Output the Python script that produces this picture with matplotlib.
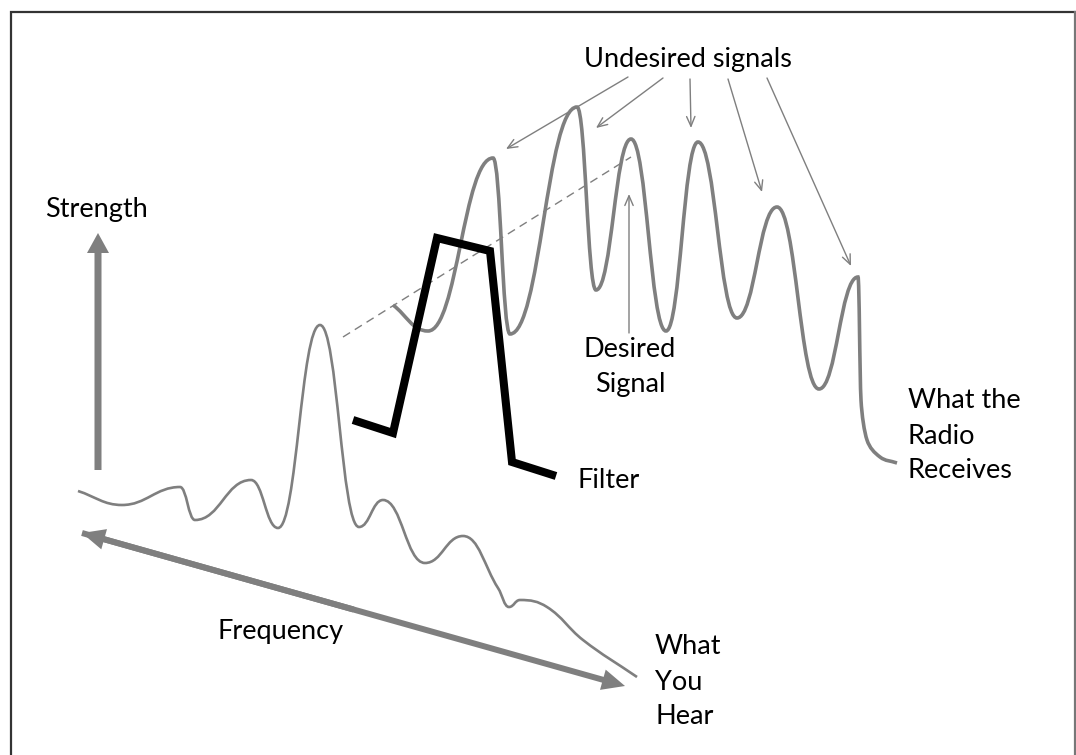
import numpy as np
import matplotlib
matplotlib.use('Agg')
import matplotlib.pyplot as plt
from matplotlib.path import Path
from matplotlib.patches import PathPatch

plt.rcParams['font.family'] = ['Lato', 'DejaVu Sans']

# anchor points of the curves (peaks / troughs), in pixel coordinates
received_x = [393, 428, 493, 510, 577, 596, 631, 666, 698, 737, 777, 819, 858, 861, 867, 880, 897]
received_y = [305, 331, 158, 334, 107, 290, 139, 331, 142, 318, 207, 389, 277, 400, 440, 457, 463]

heard_x = [78, 122, 180, 195, 251, 278, 320, 359, 383, 425, 463, 498, 509, 520, 547, 583, 637]
heard_y = [491, 505, 487, 520, 480, 528, 325, 527, 500, 563, 536, 588, 607, 600, 607, 640, 677]

filter_x = [353, 393, 437, 490, 512, 556]
filter_y = [420, 433, 238, 251, 462, 476]

dash_x = [343, 631]
dash_y = [337, 157]

# arrows "Undesired signals": start -> end
undesired_from = [(628, 77), (663, 78), (690, 79), (728, 79), (767, 78)]
undesired_to = [(506, 149), (596, 128), (691, 128), (762, 192), (851, 266)]
desired_from = (629, 333)
desired_to = (629, 194)

GRAY = '#7f7f7f'


def smooth_path(xs, ys, k=0.45):
    pts = np.column_stack([xs, ys]).astype(float)
    n = len(pts)
    tang = []
    for i in range(n):
        if i == 0:
            t = pts[1] - pts[0]
        elif i == n - 1:
            t = pts[-1] - pts[-2]
        else:
            a, b = pts[i - 1], pts[i + 1]
            if (pts[i, 1] - a[1]) * (pts[i, 1] - b[1]) > 0:
                t = np.array([b[0] - a[0], 0.0])
            else:
                t = b - a
        tang.append(t / np.hypot(*t))
    verts = [pts[0]]
    codes = [Path.MOVETO]
    for i in range(n - 1):
        p0, p1 = pts[i], pts[i + 1]
        d = np.hypot(*(p1 - p0))
        dx = abs(p1[0] - p0[0])
        h0 = min(d / 2.5, k * dx / max(abs(tang[i][0]), 1e-6))
        h1 = min(d / 2.5, k * dx / max(abs(tang[i + 1][0]), 1e-6))
        verts += [p0 + tang[i] * h0, p1 - tang[i + 1] * h1, p1]
        codes += [Path.CURVE4] * 3
    return Path(verts, codes)


fig = plt.figure(figsize=(10.76, 7.55), dpi=100)
ax = fig.add_axes([0, 0, 1, 1])
ax.set_xlim(0, 1076)
ax.set_ylim(755, 0)
ax.axis('off')

# frame
ax.plot([10.5, 10.5, 1074.5], [760, 11.5, 11.5], color='#333333', lw=1.6,
        solid_joinstyle='miter')
ax.plot([1074.5, 1074.5], [11.5, 760], color='#777777', lw=1.6)

# dashed reference line
ax.plot(dash_x, dash_y, color=GRAY, lw=1.0, dashes=(6, 4))

# curves
ax.add_patch(PathPatch(smooth_path(received_x, received_y), fill=False,
                       edgecolor=GRAY, lw=2.6, capstyle='butt'))
ax.add_patch(PathPatch(smooth_path(heard_x, heard_y), fill=False,
                       edgecolor=GRAY, lw=1.9, capstyle='butt'))

# filter
ax.plot(filter_x, filter_y, color='black', lw=5.8, solid_joinstyle='miter',
        solid_capstyle='butt')

# thin pointer arrows
for s, e in zip(undesired_from, undesired_to):
    ax.annotate('', xy=e, xytext=s,
                arrowprops=dict(arrowstyle='->,head_length=0.7,head_width=0.3',
                                color=GRAY, lw=1.0, shrinkA=0, shrinkB=0))
ax.annotate('', xy=desired_to, xytext=desired_from,
            arrowprops=dict(arrowstyle='->,head_length=0.7,head_width=0.3',
                            color=GRAY, lw=1.0, shrinkA=0, shrinkB=0))

# Strength axis arrow
ax.arrow(98, 470, 0, -237, width=7, head_width=22, head_length=20,
         length_includes_head=True, color=GRAY, lw=0)

# Frequency double arrow: full arrow to the right, second head drawn over the shaft
f0 = np.array([82, 533.0])
f1 = np.array([625, 686.0])
mid = (f0 + f1) / 2
ax.arrow(f0[0], f0[1], f1[0] - f0[0], f1[1] - f0[1], width=6,
         head_width=21, head_length=23, length_includes_head=True,
         color=GRAY, lw=0)
ax.arrow(mid[0], mid[1], f0[0] - mid[0], f0[1] - mid[1], width=6,
         head_width=21, head_length=23, length_includes_head=True,
         color=GRAY, lw=0)

fs = 19.5
ls = 1.5
ax.text(45, 210, 'Strength', fontsize=fs, va='center', ha='left')
ax.text(688, 60, 'Undesired signals', fontsize=fs, va='center', ha='center')
ax.text(630, 367, 'Desired\nSignal', fontsize=fs, va='center', ha='center',
        linespacing=ls)
ax.text(578, 481, 'Filter', fontsize=fs, va='center', ha='left')
ax.text(908, 436, 'What the\nRadio\nReceives', fontsize=fs, va='center', ha='left',
        linespacing=ls)
ax.text(655, 682, 'What\nYou\nHear', fontsize=fs, va='center', ha='left',
        linespacing=ls)
ax.text(218, 632, 'Frequency', fontsize=fs, va='center', ha='left')

fig.savefig('out.png', dpi=100)
